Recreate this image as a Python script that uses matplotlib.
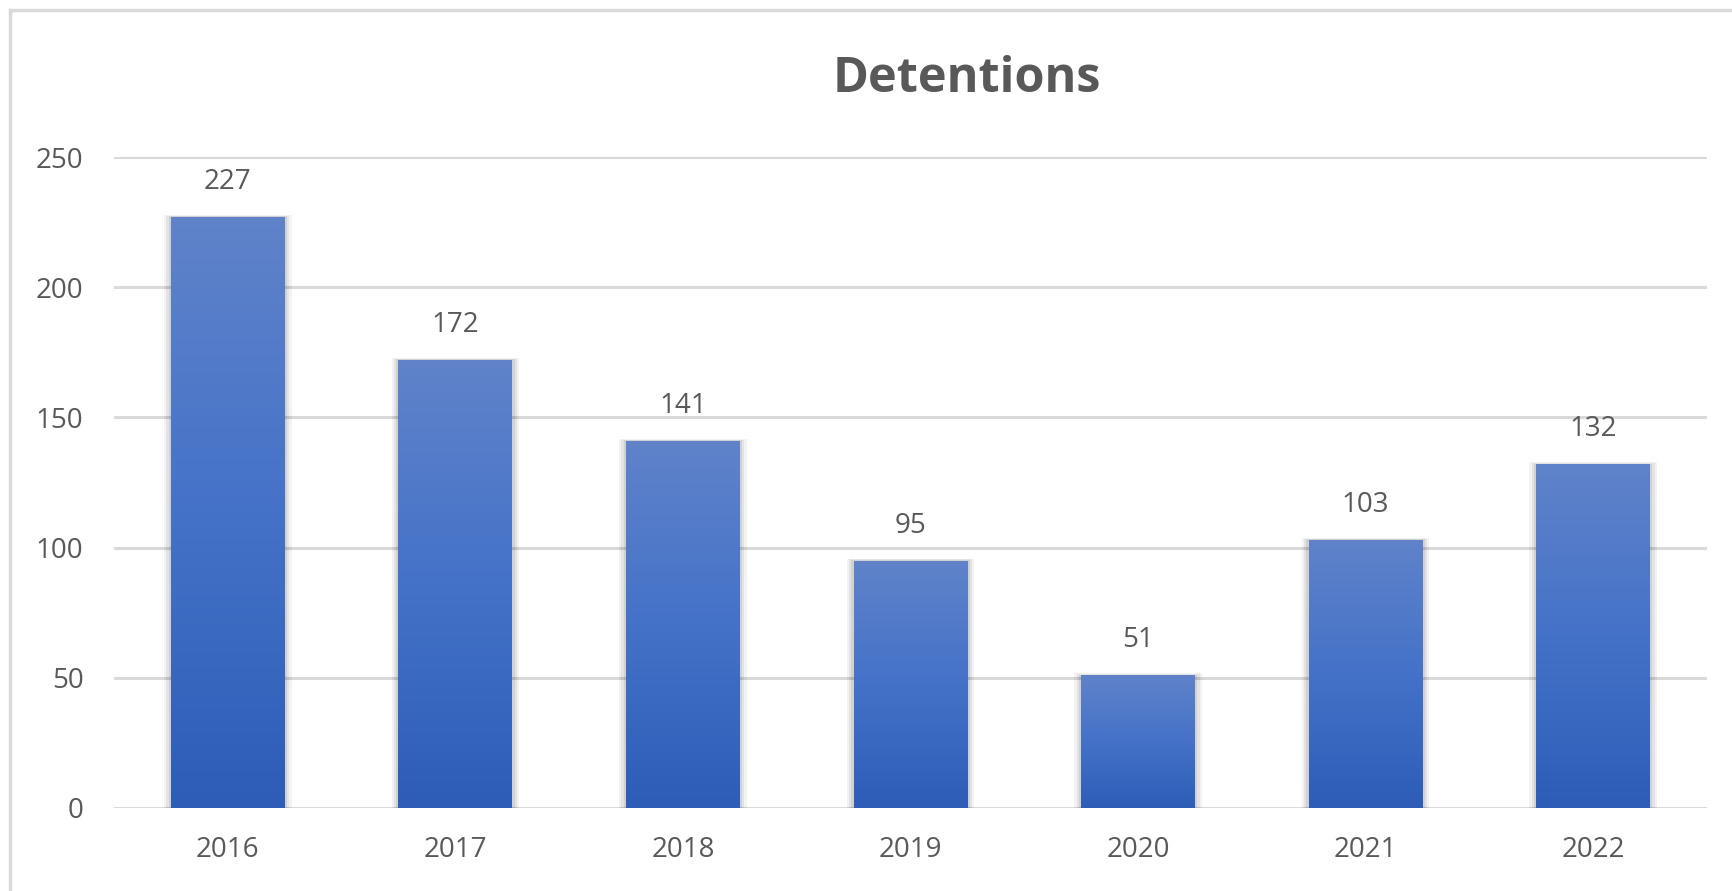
import numpy as np
import matplotlib.pyplot as plt
from matplotlib.patches import Rectangle
from matplotlib.colors import LinearSegmentedColormap

plt.rcParams['font.family'] = ['Open Sans', 'DejaVu Sans']

years = ['2016', '2017', '2018', '2019', '2020', '2021', '2022']
detentions = [227, 172, 141, 95, 51, 103, 132]
yticks = [0, 50, 100, 150, 200, 250]

txt = '#595959'
grid = '#D9D9D9'
grad = LinearSegmentedColormap.from_list('bluegrad', ['#2C5DB7', '#4472C8', '#6083CA'])

W, H = 1733, 891
fig = plt.figure(figsize=(W/100, H/100), dpi=100)
fig.patches.append(Rectangle((10/W, -0.05), 1.1, 1 - 10/H + 0.05, transform=fig.transFigure,
                             fill=False, edgecolor=grid, linewidth=2.5))

ax = fig.add_axes([114/W, 1 - 808/H, (1707-114)/W, (808-157)/H])
x = np.arange(len(years))
bars = ax.bar(x, detentions, width=0.5, color='#4472C4', zorder=3)

# soft shadow + gradient fill for each bar
grad_img = np.linspace(0, 1, 256).reshape(-1, 1)
for b in bars:
    for k, a in [(0.06, 0.05), (0.04, 0.06), (0.02, 0.08)]:
        ax.add_patch(Rectangle((b.get_x() - k*0.5, 0), b.get_width() + k, b.get_height() + k*12,
                               facecolor='black', edgecolor='none', alpha=a, zorder=2))
    im = ax.imshow(grad_img, cmap=grad, aspect='auto', origin='lower',
                   extent=[b.get_x(), b.get_x() + b.get_width(), 0, b.get_height()], zorder=4)
    im.set_clip_path(b)

for xi, v in zip(x, detentions):
    ax.text(xi, v + 8, str(v), ha='center', va='bottom', fontsize=20, color=txt)

ax.set_xlim(-0.5, len(years) - 0.5)
ax.set_ylim(0, 250)
ax.set_yticks(yticks)
ax.set_xticks(x)
ax.set_xticklabels(years)
ax.tick_params(axis='both', length=0, labelsize=20, labelcolor=txt)
ax.tick_params(axis='y', pad=22)
ax.tick_params(axis='x', pad=20)
ax.grid(axis='y', color=grid, linewidth=2.2, zorder=0)
ax.set_axisbelow(True)
for s in ax.spines.values():
    s.set_visible(False)

fig.text(967/W, 1 - 80/H, 'Detentions', ha='center', va='center', fontsize=35,
         fontweight='bold', color=txt)

fig.savefig('out.png', dpi=100)
